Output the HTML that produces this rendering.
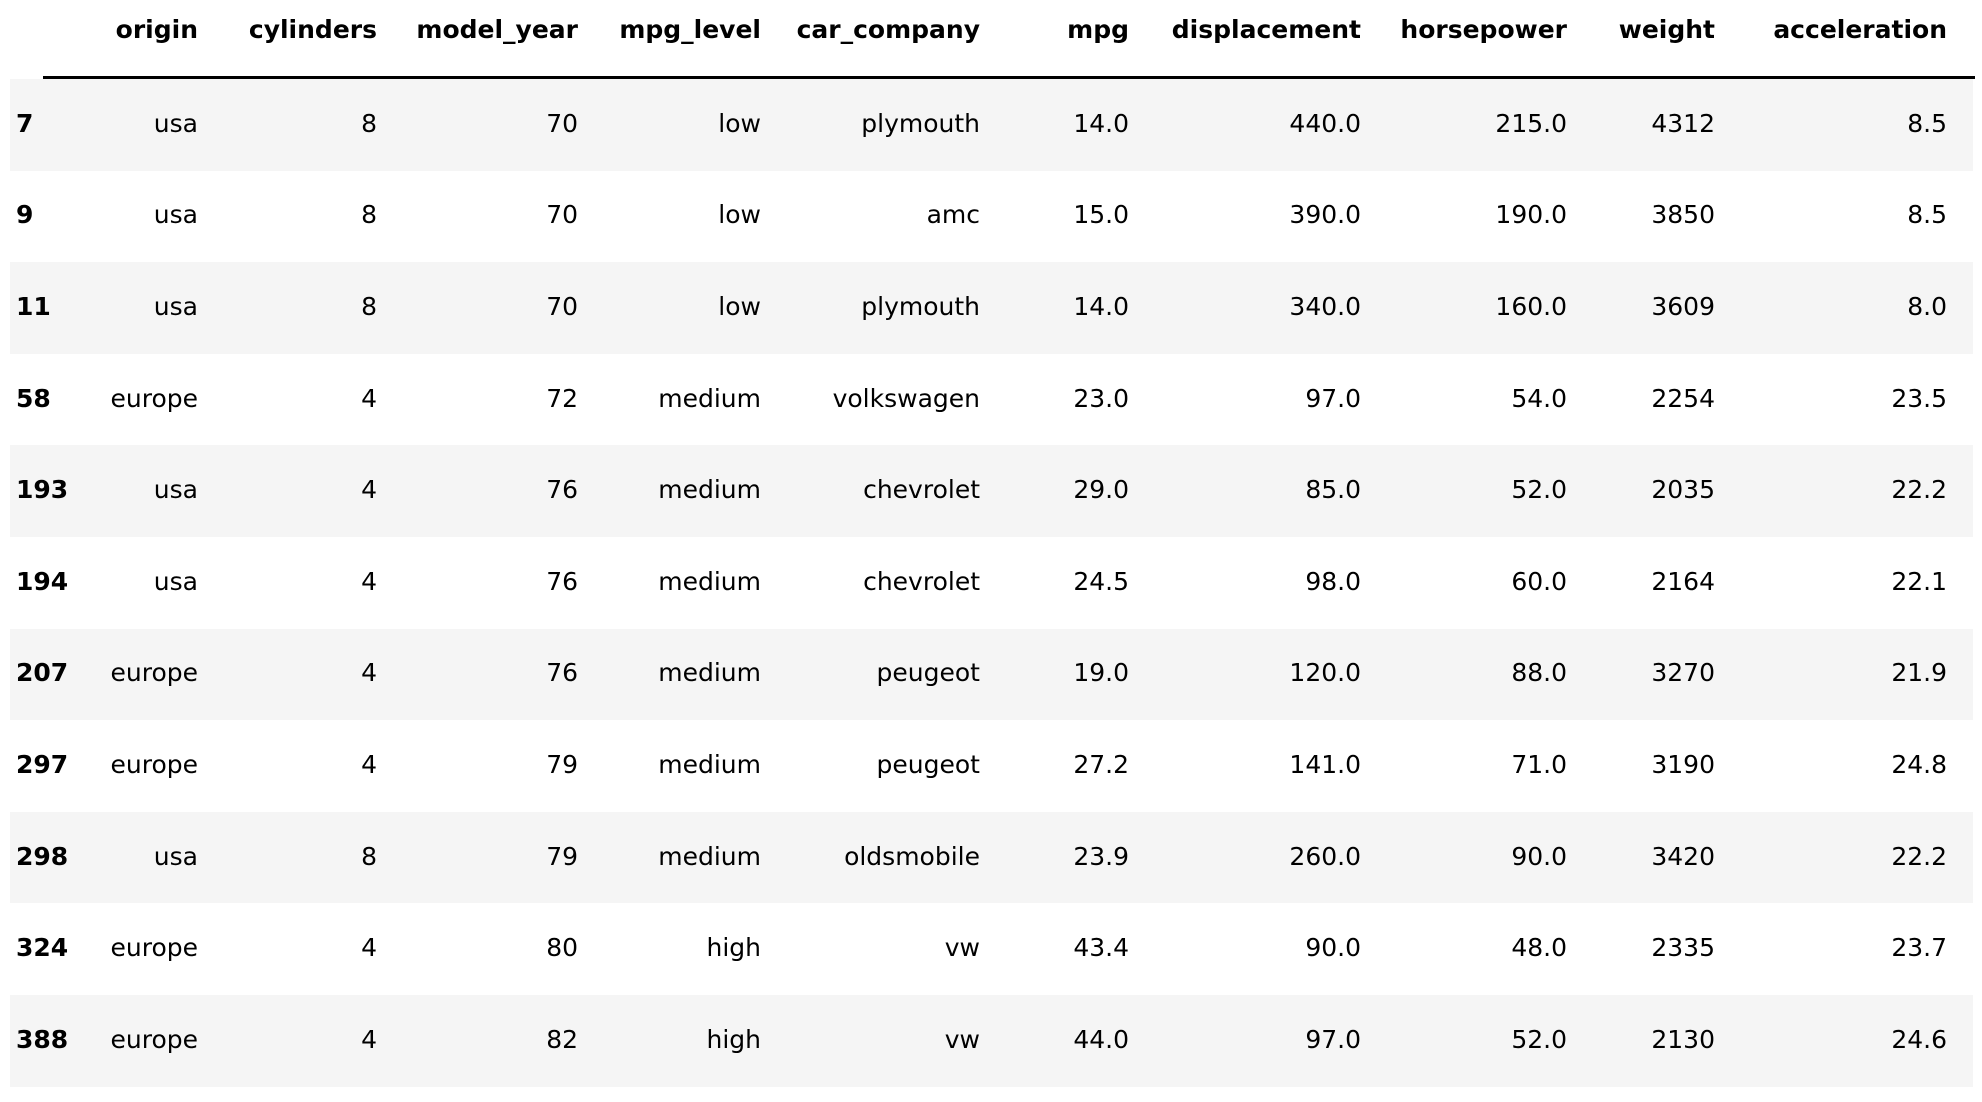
<!DOCTYPE html>
<html><head><meta charset="utf-8">
<style>
html,body{margin:0;padding:0;background:#fff;}
#root{position:relative;width:1982px;height:1102px;overflow:hidden;font-family:"DejaVu Sans","Liberation Sans",sans-serif;font-size:25px;color:#000;}
.band{position:absolute;left:10px;width:1963px;background:#f5f5f5;}
.cell{position:absolute;white-space:nowrap;line-height:30px;}
.r{text-align:right;}
.hdr{font-weight:bold;}
#rule{position:absolute;left:43px;width:1932px;top:76px;height:3px;background:#000;}
</style></head>
<body>
<div id="root">
<div id="rule"></div>
</div>
<script>
const columns=["origin","cylinders","model_year","mpg_level","car_company","mpg","displacement","horsepower","weight","acceleration"];
const indexLabels=["7","9","11","58","193","194","207","297","298","324","388"];
const origin=["usa","usa","usa","europe","usa","usa","europe","europe","usa","europe","europe"];
const cylinders=["8","8","8","4","4","4","4","4","8","4","4"];
const modelYear=["70","70","70","72","76","76","76","79","79","80","82"];
const mpgLevel=["low","low","low","medium","medium","medium","medium","medium","medium","high","high"];
const carCompany=["plymouth","amc","plymouth","volkswagen","chevrolet","chevrolet","peugeot","peugeot","oldsmobile","vw","vw"];
const mpg=["14.0","15.0","14.0","23.0","29.0","24.5","19.0","27.2","23.9","43.4","44.0"];
const displacement=["440.0","390.0","340.0","97.0","85.0","98.0","120.0","141.0","260.0","90.0","97.0"];
const horsepower=["215.0","190.0","160.0","54.0","52.0","60.0","88.0","71.0","90.0","48.0","52.0"];
const weight=["4312","3850","3609","2254","2035","2164","3270","3190","3420","2335","2130"];
const acceleration=["8.5","8.5","8.0","23.5","22.2","22.1","21.9","24.8","22.2","23.7","24.6"];
const colData=[origin,cylinders,modelYear,mpgLevel,carCompany,mpg,displacement,horsepower,weight,acceleration];
const colRight=[198,377,578,761,980,1129,1361,1567,1715,1947];
const root=document.getElementById('root');
const top0=79, rowH=91.6;
function mk(cls,txt,x,y,right){
  const d=document.createElement('div');
  d.className=cls;d.textContent=txt;
  if(right){d.style.right=(1982-x)+'px';}else{d.style.left=x+'px';}
  d.style.top=y+'px';root.appendChild(d);return d;
}
columns.forEach((c,i)=>{
  const d=mk('cell r hdr',c,colRight[i],15,true);
  
  
});
indexLabels.forEach((lab,r)=>{
  const y=top0+r*rowH;
  if(r%2===0){
    const b=document.createElement('div');
    b.className='band';b.style.top=y+'px';b.style.height=rowH+'px';
    
    
    root.appendChild(b);
  }
  const cy=y+rowH/2-16;
  const idx=mk('cell hdr',lab,16,cy,false);
  
  
  colData.forEach((arr,i)=>{
    const d=mk('cell r',arr[r],colRight[i],cy,true);
    
    
  });
});
</script>
</body></html>
